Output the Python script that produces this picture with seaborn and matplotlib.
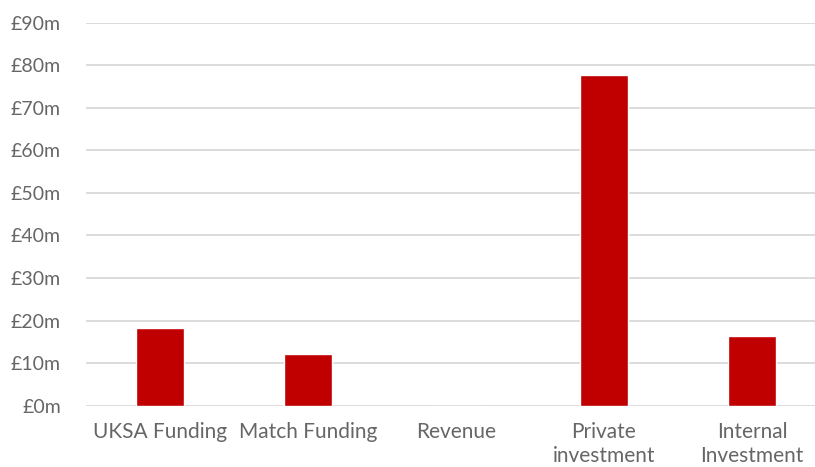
import matplotlib
matplotlib.use("Agg")
import matplotlib.pyplot as plt
import seaborn as sns
import pandas as pd

# Funding sources and amounts (£ millions)
categories = ["UKSA Funding", "Match Funding", "Revenue", "Private\ninvestment", "Internal\nInvestment"]
amounts = [18.2, 12.1, 0.0, 77.8, 16.4]
y_ticks = [0, 10, 20, 30, 40, 50, 60, 70, 80, 90]
y_tick_labels = [f"£{v}m" for v in y_ticks]

df = pd.DataFrame({"source": categories, "amount": amounts})

sns.set_theme(style="white")
plt.rcParams["font.family"] = ["Lato", "DejaVu Sans"]

fig = plt.figure(figsize=(8.15, 4.67), dpi=100)
ax = fig.add_axes([86 / 815, (467 - 405.7) / 467, (815 - 86) / 815, (405.7 - 22.7) / 467])

sns.barplot(data=df, x="source", y="amount", color="#C00000", width=0.32,
            saturation=1, ax=ax, zorder=3)

ax.set_ylim(0, 90)
ax.set_xlim(-0.5, 4.426)
ax.set_yticks(y_ticks)
ax.set_yticklabels(y_tick_labels)
ax.yaxis.grid(True, color="#D9D9D9", linewidth=1.3, zorder=0)
ax.set_axisbelow(True)
for s in ax.spines.values():
    s.set_visible(False)
ax.set_xlabel("")
ax.set_ylabel("")
ax.tick_params(axis="y", length=0, pad=18, labelsize=14, labelcolor="#666666")
ax.tick_params(axis="x", length=0, pad=12, labelsize=15, labelcolor="#666666")
for lbl in ax.get_xticklabels():
    lbl.set_linespacing(1.2)

fig.savefig("out.png", dpi=100)
